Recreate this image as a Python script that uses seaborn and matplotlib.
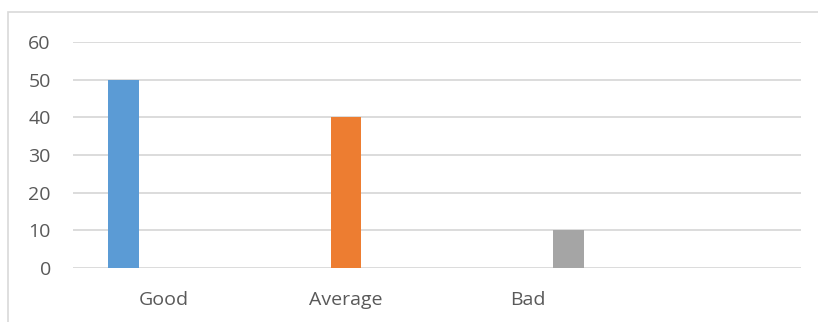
import numpy as np
import pandas as pd
import matplotlib
matplotlib.use("Agg")
import matplotlib.pyplot as plt
from matplotlib.patches import Rectangle
import seaborn as sns

# Chart data
categories = ["Good", "Average", "Bad", ""]
series_names = ["Series1", "Series2", "Series3"]
series1 = [50, np.nan, np.nan, np.nan]
series2 = [np.nan, 40, np.nan, np.nan]
series3 = [np.nan, np.nan, 10, np.nan]
y_ticks = [0, 10, 20, 30, 40, 50, 60]

colors = ["#5B9BD5", "#ED7D31", "#A5A5A5"]

rows = []
for name, vals in zip(series_names, [series1, series2, series3]):
    for cat, v in zip(categories, vals):
        rows.append({"category": cat, "series": name, "value": v})
df = pd.DataFrame(rows).dropna()

sns.set_theme(style="white")
plt.rcParams["font.family"] = ["Open Sans", "DejaVu Sans"]

fig = plt.figure(figsize=(8.18, 3.22), dpi=100)
ax = fig.add_axes([73 / 818, 1 - 268 / 322, (801 - 73) / 818, (268 - 42) / 322])

sns.barplot(
    data=df, x="category", y="value", hue="series",
    order=categories, hue_order=series_names, palette=colors,
    width=0.6675, gap=0.236, dodge=True, legend=False, ax=ax,
    saturation=1, linewidth=0,
)

ax.set_xlim(-0.5, len(categories) - 0.5)
ax.set_ylim(0, 60)
ax.set_yticks(y_ticks)
ax.set_xticks(range(len(categories)))
ax.set_xticklabels(categories)
ax.set_xlabel("")
ax.set_ylabel("")

ax.grid(axis="y", color="#d9d9d9", linewidth=1.3)
ax.grid(axis="x", visible=False)
ax.set_axisbelow(True)
for s in ax.spines.values():
    s.set_visible(False)
ax.tick_params(axis="both", length=0, labelsize=14, labelcolor="#595959")
ax.tick_params(axis="y", pad=16)
ax.tick_params(axis="x", pad=16.5)

# chart-area border
fig.patches.append(Rectangle((8 / 818, -0.1), 1.2, 1 - 12 / 322 + 0.1,
                             transform=fig.transFigure, fill=False,
                             edgecolor="#d9d9d9", linewidth=1.2))

fig.savefig("out.png", dpi=100, facecolor="white")
